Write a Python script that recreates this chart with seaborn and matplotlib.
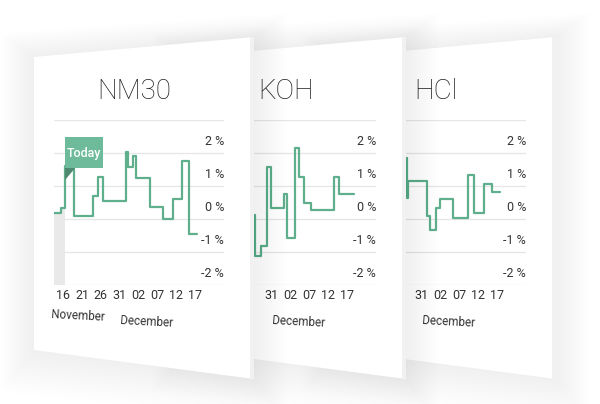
import matplotlib
matplotlib.use('Agg')
import matplotlib.pyplot as plt
import matplotlib.transforms as mtransforms
from matplotlib.patches import Polygon, Rectangle
import seaborn as sns

sns.set_theme(style='white')
plt.rcParams['font.family'] = ['Roboto', 'DejaVu Sans']

# x axis: days counted from 16 November
tick_days = [0, 5, 10, 15, 20, 25, 30, 35]
tick_labels = ['16', '21', '26', '31', '02', '07', '12', '17']
pct_levels = [-2, -1, 0, 1, 2]
month_names = ['November', 'December']
month_days = [3.9, 22.2]

# step series, daily change in %
nm30_days = [-2.5, -0.7, 0.45, 2.9, 7.8, 9.3, 10.6, 16.7, 17.3, 18.6, 19.3, 23.0, 26.6, 29.2, 31.5, 33.5, 35.6]
nm30_vals = [0.19, 0.32, 1.6, 0.09, 0.70, 1.28, 0.55, 2.03, 1.58, 1.92, 1.25, 0.35, 0.0, 0.61, 1.77, -0.45, -0.45]

koh_days = [9.0, 10.6, 12.1, 13.7, 14.8, 18.3, 19.0, 21.2, 22.2, 23.6, 25.4, 31.5, 32.9, 36.9]
koh_vals = [0.12, -1.12, -0.82, 1.59, 0.34, 0.75, -0.59, 2.16, 1.28, 0.49, 0.27, 1.28, 0.75, 0.75]

hcl_days = [9.0, 11.0, 11.4, 16.3, 17.2, 18.7, 19.9, 23.4, 27.4, 29.0, 31.6, 33.6, 35.8]
hcl_vals = [1.84, 0.65, 1.16, 0.09, -0.33, 0.34, 0.60, 0.02, 1.33, 0.17, 1.06, 0.83, 0.83]

today = 0.45

GREEN = '#5fae8c'
FLAG = '#6dbb9a'
FLAG_DARK = '#4e8a70'
TXT = '#333333'
small_font = ['Liberation Sans Narrow', 'Roboto', 'DejaVu Sans']

W, H = 600, 404
fig = plt.figure(figsize=(6, 4.04), dpi=100)
fig.patch.set_facecolor('white')


def card_shape(dx, grow=0.0, drop=0.0):
    return [(34 + dx - grow, 57 - grow + drop), (254 + dx + grow, 37 - grow + drop),
            (254 + dx + grow, 379 + grow + drop), (34 + dx - grow, 350 + grow + drop)]


def draw_card(dx, z):
    bg = fig.add_axes([0, 0, 1, 1], zorder=z)
    bg.set_xlim(0, W)
    bg.set_ylim(H, 0)
    bg.axis('off')
    # soft drop shadow
    for k in range(1, 16):
        bg.add_patch(Polygon(card_shape(dx, grow=k * 2.2, drop=k * 0.6), closed=True,
                             facecolor='black', edgecolor='none', alpha=0.0055))
    bg.add_patch(Polygon(card_shape(dx), closed=True, facecolor='white', edgecolor='none'))
    # card thickness on the right edge
    bg.add_patch(Polygon([(250 + dx, 37.4), (254 + dx, 37), (254 + dx, 379), (250 + dx, 378.5)],
                         closed=True, facecolor='#f1f1f1', edgecolor='none'))


def draw_chart(dx, z, name, days, vals, front=False):
    ax = fig.add_axes([(54 + dx) / W, 1 - 285 / H, 170 / W, 165 / H], zorder=z)
    ax.set_facecolor('none')
    for s in ax.spines.values():
        s.set_visible(False)
    ax.set_xlim(-2.47, 42.7)
    ax.set_ylim(-2, 3)
    ax.set_yticks([-2, -1, 0, 1, 2, 3])
    ax.set_yticklabels([])
    ax.grid(axis='y', color='#e6e6e6', lw=0.9)
    ax.grid(axis='x', visible=False)
    ax.set_xticks(tick_days)
    # on the cards behind, the first labels sit under the card in front
    labels = tick_labels if front else [''] * 3 + tick_labels[3:]
    ax.set_xticklabels(labels, fontsize=9, color=TXT, family=small_font)
    ax.tick_params(axis='both', length=0, pad=3)

    trans = mtransforms.blended_transform_factory(ax.transAxes, ax.transData)
    for v in pct_levels:
        ax.text(1.0, v + 0.14, f'{v} %', transform=trans, ha='right', va='bottom',
                fontsize=9, color=TXT, family=small_font)

    mtrans = mtransforms.blended_transform_factory(ax.transData, ax.transAxes)
    if front:
        ax.text(month_days[0], -0.188, month_names[0], transform=mtrans, ha='center', va='center',
                fontsize=8.5, color=TXT, family=small_font, rotation=-3)
    ax.text(month_days[1], -0.224, month_names[1], transform=mtrans, ha='center', va='center',
            fontsize=8.5, color=TXT, family=small_font, rotation=-3)

    ax.text(0.47, 1.17, name, transform=ax.transAxes, ha='center', va='center',
            fontsize=20, color='#1e1e1e', fontweight='light', family=['Roboto', 'DejaVu Sans'])

    if front:
        # past days shaded grey up to today
        n = sum(d <= today for d in days)
        ax.fill_between(days[:n], -2, vals[:n], step='post', color='#e9e9e9', lw=0, zorder=1)

    sns.lineplot(x=days, y=vals, ax=ax, color=GREEN, lw=1.6, estimator=None, sort=False,
                 drawstyle='steps-post', zorder=3)

    if front:
        ax.add_patch(Rectangle((today, 1.545), 10.05, 0.94, facecolor=FLAG, edgecolor='none', zorder=4))
        ax.add_patch(Polygon([(today, 1.545), (today + 2.7, 1.545), (today, 1.18)], closed=True,
                             facecolor=FLAG_DARK, edgecolor='none', zorder=4))
        ax.text(today + 5.0, 2.0, 'Today', ha='center', va='center', color='white',
                fontsize=9, fontweight='medium', family=small_font, zorder=5)
    ax.set_xlabel('')
    ax.set_ylabel('')
    return ax


# back to front
draw_card(302, 1)
draw_chart(302, 2, 'HCl', hcl_days, hcl_vals)
draw_card(152, 3)
draw_chart(152, 4, 'KOH', koh_days, koh_vals)
draw_card(0, 5)
draw_chart(0, 6, 'NM30', nm30_days, nm30_vals, front=True)

fig.savefig('out.png', dpi=100, facecolor='white')
